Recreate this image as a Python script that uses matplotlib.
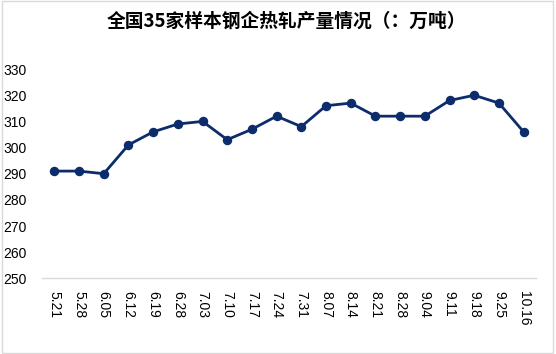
import matplotlib.pyplot as plt
from matplotlib.patches import Rectangle

plt.rcParams['font.family'] = ['Liberation Sans', 'Noto Sans CJK SC']

# 数据
dates = ['5.21', '5.28', '6.05', '6.12', '6.19', '6.28', '7.03', '7.10', '7.17', '7.24',
         '7.31', '8.07', '8.14', '8.21', '8.28', '9.04', '9.11', '9.18', '9.25', '10.16']
output = [291, 291, 290, 301, 306, 309, 310, 303, 307, 312,
          308, 316, 317, 312, 312, 312, 318, 320, 317, 306]
y_ticks = [250, 260, 270, 280, 290, 300, 310, 320, 330]

line_color = '#0C2C6C'

fig = plt.figure(figsize=(5.56, 3.54), dpi=100)
ax = fig.add_axes([0.0755, 0.2138, 0.8885, 0.591])

x = list(range(len(dates)))
ax.plot(x, output, color=line_color, lw=2.0, marker='o', ms=5.8,
        markerfacecolor=line_color, markeredgecolor=line_color, solid_joinstyle='round')

ax.set_xlim(-0.5, len(dates) - 0.5)
ax.set_ylim(250, 330)
ax.set_yticks(y_ticks)
ax.set_xticks(x)
ax.set_xticklabels(dates, rotation=-90, fontsize=10, color='#000000')
ax.tick_params(axis='x', length=0, pad=9)
ax.tick_params(axis='y', length=0, pad=11, labelsize=10)

for s in ['top', 'right', 'left']:
    ax.spines[s].set_visible(False)
ax.spines['bottom'].set_color('#D9D9D9')
ax.spines['bottom'].set_linewidth(1.0)

fig.text(0.515, 0.94, '全国35家样本钢企热轧产量情况（：万吨）', ha='center', va='center',
         fontsize=13.5, fontweight='bold', family=['Noto Sans CJK SC', 'DejaVu Sans'])

# 外框
fig.patches.append(Rectangle((0.003, 0.004), 0.992, 0.992, transform=fig.transFigure,
                             fill=False, edgecolor='#D9D9D9', lw=1.0))

plt.savefig('out.png', dpi=100)
